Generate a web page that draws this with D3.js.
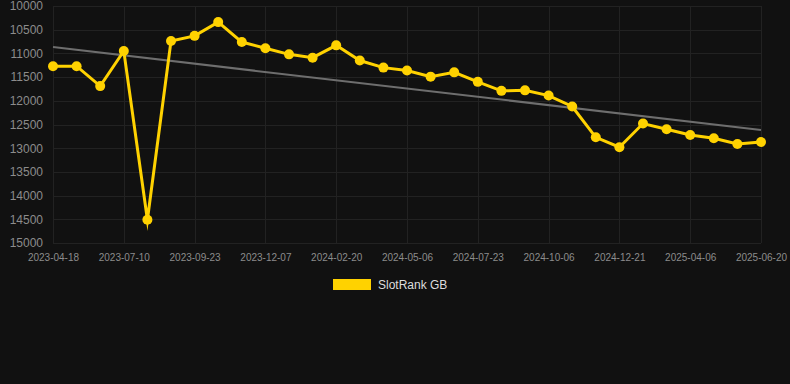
<!DOCTYPE html>
<html><head><meta charset="utf-8">
<script src="https://cdn.jsdelivr.net/npm/d3@7"></script>
<style>
html,body{margin:0;padding:0;background:#111111;}
svg{display:block;}
</style></head>
<body>
<svg id="chart" width="790" height="384"></svg>
<script>
const dates = ["2023-04-18","2023-05-16","2023-06-13","2023-07-10",
"2023-08-04","2023-08-29","2023-09-23",
"2023-10-18","2023-11-12","2023-12-07",
"2024-01-01","2024-01-26","2024-02-20",
"2024-03-16","2024-04-10","2024-05-06",
"2024-06-01","2024-06-27","2024-07-23",
"2024-08-17","2024-09-11","2024-10-06",
"2024-10-31","2024-11-26","2024-12-21",
"2025-01-25","2025-03-01","2025-04-06",
"2025-05-01","2025-05-26","2025-06-20"];
const slotRankGB = [11270,11270,11690,10950,14510,10740,10630,10340,10760,10890,
11020,11090,10830,11150,11300,11360,11490,11400,11600,11790,
11780,11890,12120,12770,12980,12480,12600,12720,12790,12910,12870];
const yTicks = [10000,10500,11000,11500,12000,12500,13000,13500,14000,14500,15000];
const seriesName = "SlotRank GB";

(function () {
const svg = d3.select("#chart");
const mLeft = 53, mRight = 761, mTop = 6, mBottom = 243;

const x = d3.scalePoint().domain(dates).range([mLeft, mRight]);
const y = d3.scaleLinear().domain([10000, 15000]).range([mTop, mBottom]);

// grid
const g = svg.append("g");
g.selectAll("line.h").data(yTicks).join("line")
  .attr("x1", mLeft).attr("x2", mRight)
  .attr("y1", d => Math.round(y(d)) + 0.5).attr("y2", d => Math.round(y(d)) + 0.5)
  .attr("stroke", "#222222").attr("stroke-width", 1);
const labeled = dates.filter((d, i) => i % 3 === 0);
g.selectAll("line.v").data(labeled).join("line")
  .attr("x1", d => Math.round(x(d)) + 0.5).attr("x2", d => Math.round(x(d)) + 0.5)
  .attr("y1", mTop).attr("y2", mBottom)
  .attr("stroke", "#222222").attr("stroke-width", 1);

// y axis
const yAxis = d3.axisLeft(y).tickValues(yTicks).tickSize(0).tickPadding(10).tickFormat(d => d);
const ya = svg.append("g").attr("transform", `translate(${mLeft},0)`).call(yAxis);
ya.select(".domain").remove();
ya.selectAll("text").attr("fill", "#8c8c8c").style("font-family", "Arial, 'Liberation Sans', sans-serif").style("font-size", "12px");

// x axis
const xAxis = d3.axisBottom(x).tickValues(labeled).tickSize(0).tickPadding(11);
const xa = svg.append("g").attr("transform", `translate(0,${mBottom})`).call(xAxis);
xa.select(".domain").remove();
xa.selectAll("text").attr("fill", "#8c8c8c").style("font-family", "Arial, 'Liberation Sans', sans-serif").style("font-size", "10px");

// trend line (least squares)
const n = slotRankGB.length;
const idx = d3.range(n);
const mx = d3.mean(idx), my = d3.mean(slotRankGB);
const slope = d3.sum(idx, i => (i - mx) * (slotRankGB[i] - my)) / d3.sum(idx, i => (i - mx) ** 2);
const intercept = my - slope * mx;
svg.append("line")
  .attr("x1", x(dates[0])).attr("y1", y(intercept))
  .attr("x2", x(dates[n - 1])).attr("y2", y(intercept + slope * (n - 1)))
  .attr("stroke", "#6e6e6e").attr("stroke-width", 2);

// series line
const line = d3.line().x((d, i) => x(dates[i])).y(d => y(d));
svg.append("path").datum(slotRankGB)
  .attr("d", line).attr("fill", "none")
  .attr("stroke", "#FFD200").attr("stroke-width", 3)
  .attr("stroke-linejoin", "miter").attr("stroke-miterlimit", 10);
svg.selectAll("circle.pt").data(slotRankGB).join("circle")
  .attr("cx", (d, i) => x(dates[i])).attr("cy", d => y(d)).attr("r", 5)
  .attr("fill", "#FFD200");

// legend
svg.append("rect").attr("x", 333).attr("y", 279).attr("width", 38).attr("height", 11).attr("fill", "#FFD200");
svg.append("text").attr("x", 378).attr("y", 289).text(seriesName)
  .attr("fill", "#dddddd").style("font-family", "Arial, 'Liberation Sans', sans-serif").style("font-size", "12px");
})();
</script>
</body></html>
